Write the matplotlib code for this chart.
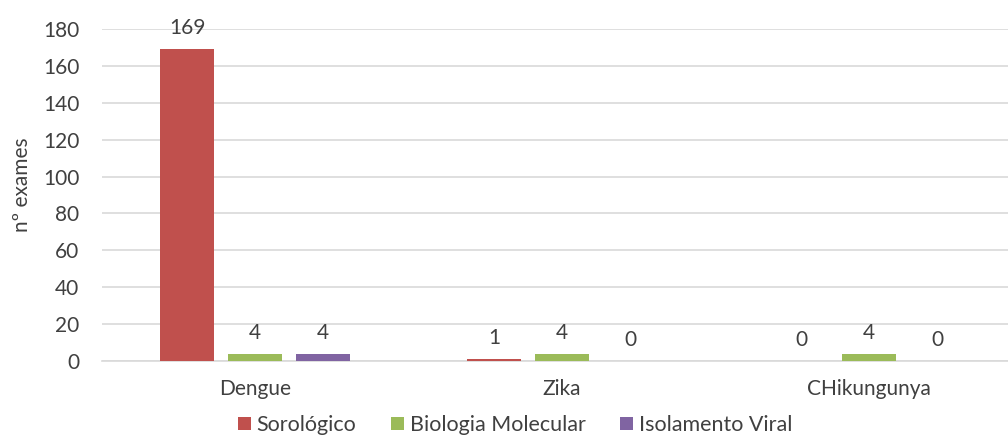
import numpy as np
import matplotlib.pyplot as plt

plt.rcParams['font.family'] = ['Lato', 'DejaVu Sans']

categories = ['Dengue', 'Zika', 'CHikungunya']
series = ['Sorológico', 'Biologia Molecular', 'Isolamento Viral']
sorologico = [169, 1, 0]
biologia = [4, 4, 4]
isolamento = [4, 0, 0]
colors = ['#c0504d', '#9bbb59', '#8064a2']
yticks = [0, 20, 40, 60, 80, 100, 120, 140, 160, 180]

txt = '#404040'
fs = 15
fig = plt.figure(figsize=(10.08, 4.37), dpi=100)
# plot area runs a bit past the right edge of the picture
ax = fig.add_axes([101.5 / 1008, 76 / 437, 921 / 1008, 332 / 437])

x = np.arange(len(categories))
width = 0.176
offsets = [-0.2215, 0, 0.2215]
for vals, name, col, off in zip([sorologico, biologia, isolamento], series, colors, offsets):
    bars = ax.bar(x + off, vals, width, color=col, label=name, zorder=3)
    for b, v in zip(bars, vals):
        ax.annotate(str(v), (b.get_x() + b.get_width() / 2, v),
                    xytext=(0, 8), textcoords='offset points',
                    ha='center', va='bottom', fontsize=fs, color=txt)

ax.set_ylim(0, 180)
ax.set_xlim(-0.5, 2.5)
ax.set_yticks(yticks)
ax.set_xticks(x)
ax.set_xticklabels(categories)
ax.tick_params(axis='both', length=0, labelsize=fs, colors=txt)
ax.tick_params(axis='y', pad=16)
ax.tick_params(axis='x', pad=13)
ax.yaxis.grid(True, color='#d9d9d9', linewidth=1.2, zorder=0)
for s in ['top', 'right', 'left']:
    ax.spines[s].set_visible(False)
ax.spines['bottom'].set_color('#d9d9d9')
ax.spines['bottom'].set_linewidth(1.2)
ax.set_ylabel('nº exames', fontsize=fs, color=txt, labelpad=8)
ax.yaxis.label.set_y(0.53)

fig.legend(loc='lower center', ncol=3, frameon=False, fontsize=15.5,
           bbox_to_anchor=(0.511, -0.04), handlelength=0.6, handleheight=0.6,
           handletextpad=0.28, columnspacing=1.6, labelcolor=txt)

plt.savefig('out.png', dpi=100)
